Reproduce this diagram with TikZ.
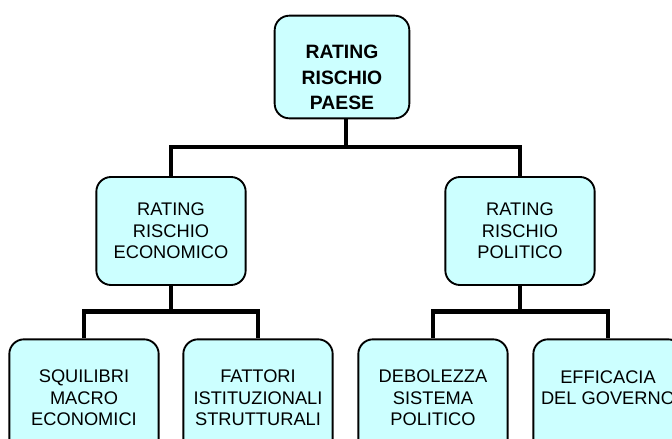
\documentclass[tikz,border=0pt]{standalone}
\usepackage{fontspec}
\setmainfont{Liberation Sans}
\usepackage{tikz}
\definecolor{boxcyan}{HTML}{CCFFFF}

\begin{document}
\begin{tikzpicture}[x=0.75pt,y=-0.75pt,
    box/.style={draw, line width=1.4pt, rounded corners=11pt, fill=boxcyan,
        align=center, inner sep=0pt, minimum width=112pt, minimum height=81pt,
        font=\fontsize{13.7}{16}\selectfont},
    lowbox/.style={box, minimum height=88pt},
    topbox/.style={box, minimum width=101pt, minimum height=77pt,
        font=\fontsize{14.5}{19}\selectfont\bfseries},
    link/.style={line width=3.6pt}]
    \useasboundingbox (0,0) rectangle (672,439);
    % top level
    \node[topbox] (rating) at (342,67) {\rule{0pt}{26pt}RATING\\RISCHIO\\PAESE};
    % second level
    \node[box] (eco) at (171,231) {RATING\\RISCHIO\\ECONOMICO};
    \node[box] (pol) at (520,231) {RATING\\RISCHIO\\POLITICO};
    % third level
    \node[lowbox] (squil) at (84,398) {SQUILIBRI\\MACRO\\ECONOMICI};
    \node[lowbox] (fatt) at (258,398) {FATTORI\\ISTITUZIONALI\\STRUTTURALI};
    \node[lowbox] (debol) at (433,398) {DEBOLEZZA\\SISTEMA\\POLITICO};
    \node[lowbox] (effic) at (608,398) {EFFICACIA\\DEL GOVERNO\\\phantom{X}};
    % connectors
    \draw[link] ([xshift=3pt]rating.south) -- ++(0,30);
    \draw[link] (eco.north) -- ++(0,-29) -| (pol.north);
    \draw[link] (eco.south) -- ++(0,27);
    \draw[link] (squil.north) -- ++(0,-27) -| (fatt.north);
    \draw[link] (pol.south) -- ++(0,27);
    \draw[link] (debol.north) -- ++(0,-27) -| (effic.north);
\end{tikzpicture}
\end{document}
